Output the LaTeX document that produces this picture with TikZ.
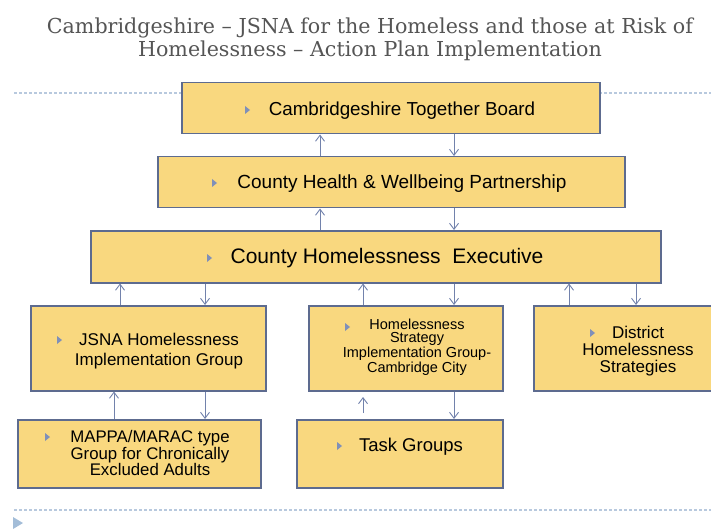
\documentclass[tikz,border=0pt]{standalone}
\usepackage{fontspec}
\setmainfont{Liberation Sans}
\newfontfamily\titlefont{DejaVu Serif}
\usetikzlibrary{arrows.meta}
\definecolor{boxfill}{HTML}{F9D87F}
\definecolor{boxline}{HTML}{5D6B8F}
\definecolor{arrc}{HTML}{7282AC}
\definecolor{dashc}{HTML}{B8C9DE}
\definecolor{bulc}{HTML}{8090B8}
\definecolor{tric}{HTML}{A3BDD8}
\definecolor{titlec}{HTML}{555555}
\tikzset{
  box/.style={draw=boxline, fill=boxfill, line width=1.5pt, anchor=north west, inner sep=0pt},
  txt/.style={inner sep=0pt, align=center, text=black},
  arr/.style={draw=arrc, line width=0.9pt, -{Straight Barb[length=6pt,width=9pt,line width=0.9pt]}},
  sep/.style={draw=dashc, line width=1.1pt, dash pattern=on 3pt off 2pt},
}
\newcommand\bulletmark[2]{\fill[bulc] (#1,#2) ++(0,-4) -- ++(5,4) -- ++(-5,4) -- cycle;}
\begin{document}
\begin{tikzpicture}[x=1pt,y=-1pt]
\useasboundingbox (0,0) rectangle (711,529);
% title
\node[txt, text=titlec, font=\titlefont\fontsize{20.6}{23}\selectfont] (title) at (370,39)
  {Cambridgeshire – JSNA for the Homeless and those at Risk of\\Homelessness – Action Plan Implementation};
% separators
\coordinate (s1a) at (14,93); \coordinate (s1b) at (711,93);
\coordinate (s2a) at (14,510); \coordinate (s2b) at (711,510);
\draw[sep] (s1a) -- (s1b);
\draw[sep] (s2a) -- (s2b);
\fill[tric] (13,517) -- (23,523) -- (13,529) -- cycle;
% boxes
\node[box, minimum width=418pt, minimum height=51pt] (board) at (181,82) {};
\node[box, minimum width=467pt, minimum height=51pt] (health) at (157,156) {};
\node[box, minimum width=570pt, minimum height=52pt] (exec) at (90,230) {};
\node[box, minimum width=235pt, minimum height=85pt] (jsna) at (30,305) {};
\node[box, minimum width=194pt, minimum height=85pt] (strat) at (308,305) {};
\node[box, minimum width=185pt, minimum height=85pt] (dist) at (533,305) {};
\node[box, minimum width=243pt, minimum height=68pt] (mappa) at (17,419) {};
\node[box, minimum width=206pt, minimum height=68pt] (task) at (296,419) {};
% texts
\node[txt, font=\fontsize{18.8}{22}\selectfont] (tboard) at (402,111) {Cambridgeshire Together Board};
\node[txt, font=\fontsize{19}{22}\selectfont] (thealth) at (402,184) {County Health \& Wellbeing Partnership};
\node[txt, font=\fontsize{21}{24}\selectfont] (texec) at (387,258) {County Homelessness\ \ Executive};
\node[txt, font=\fontsize{17}{20}\selectfont] (tjsna) at (159,351) {JSNA Homelessness\\Implementation Group};
\node[txt, font=\fontsize{14.5}{13.5}\selectfont] (tstrat) at (417,347) {Homelessness\\Strategy\\Implementation Group-\\Cambridge City};
\node[txt, font=\fontsize{17}{17}\selectfont] (tdist) at (638,351) {District\\Homelessness\\Strategies};
\node[txt, font=\fontsize{16.8}{15}\selectfont] (tmappa) at (150,453) {MAPPA/MARAC type\\Group for Chronically\\Excluded Adults};
\node[txt, font=\fontsize{18.5}{22}\selectfont] (ttask) at (411,447) {Task Groups};
% bullets
\bulletmark{245}{110}
\bulletmark{212}{183}
\bulletmark{207}{258}
\bulletmark{57}{340}
\bulletmark{345}{327}
\bulletmark{590}{333}
\bulletmark{45}{437}
\bulletmark{337}{446}
% connector x positions
\coordinate (x320) at (320,0);
\coordinate (x454) at (454,0);
\coordinate (x120) at (120,0);
\coordinate (x205) at (205,0);
\coordinate (x363) at (363,0);
\coordinate (x569) at (569,0);
\coordinate (x636) at (636,0);
\coordinate (x114) at (114,0);
\draw[arr] (health.north -| x320) -- (board.south -| x320);
\draw[arr] (board.south -| x454) -- (health.north -| x454);
\draw[arr] (exec.north -| x320) -- (health.south -| x320);
\draw[arr] (health.south -| x454) -- (exec.north -| x454);
\draw[arr] (jsna.north -| x120) -- (exec.south -| x120);
\draw[arr] (exec.south -| x205) -- (jsna.north -| x205);
\draw[arr] (strat.north -| x363) -- (exec.south -| x363);
\draw[arr] (exec.south -| x454) -- (strat.north -| x454);
\draw[arr] (dist.north -| x569) -- (exec.south -| x569);
\draw[arr] (exec.south -| x636) -- (dist.north -| x636);
\draw[arr] (mappa.north -| x114) -- (jsna.south -| x114);
\draw[arr] (jsna.south -| x205) -- (mappa.north -| x205);
\draw[arr] (strat.south -| x454) -- (task.north -| x454);
\coordinate (fa) at (363,413);
\coordinate (fb) at (363,397);
\draw[arr] (fa) -- (fb);
\end{tikzpicture}
\end{document}
